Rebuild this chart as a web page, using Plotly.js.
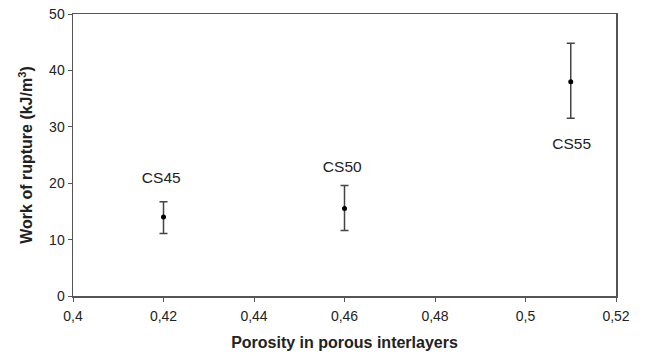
<!DOCTYPE html>
<html><head><meta charset="utf-8">
<script src="https://cdn.plot.ly/plotly-3.0.1.min.js"></script>
<style>html,body{margin:0;padding:0;background:#fff}#c{width:645px;height:356px}</style>
</head><body><div id="c"></div>
<script>
const labels = ["CS45", "CS50", "CS55"];
const porosity = [0.42, 0.46, 0.51];
const work = [14.0, 15.5, 38.0];
const errPlus = [2.7, 4.1, 6.8];
const errMinus = [2.9, 3.9, 6.5];
const labelX = [0.4195, 0.4595, 0.5102];
const labelY = [20.7, 22.7, 26.7];
const xTicks = [0.4, 0.42, 0.44, 0.46, 0.48, 0.5, 0.52];
const xTickText = ["0,4", "0,42", "0,44", "0,46", "0,48", "0,5", "0,52"];
const yTicks = [0, 10, 20, 30, 40, 50];

const trace = {
  x: porosity, y: work, type: 'scatter', mode: 'markers',
  marker: {color: '#000', size: 5},
  error_y: {type: 'data', symmetric: false, array: errPlus, arrayminus: errMinus,
    color: '#444', thickness: 1.5, width: 4},
  hoverinfo: 'skip', showlegend: false
};
const textTrace = {
  x: labelX, y: labelY, type: 'scatter', mode: 'text', text: labels,
  textfont: {family: 'Liberation Sans, Arial, sans-serif', size: 15.5, color: '#222'},
  showlegend: false, hoverinfo: 'skip'
};
const layout = {
  width: 645, height: 356,
  margin: {l: 73, r: 29, t: 14, b: 60},
  paper_bgcolor: '#fff', plot_bgcolor: '#fff',
  font: {family: 'Liberation Sans, Arial, sans-serif', size: 14, color: '#222'},
  xaxis: {
    range: [0.4, 0.52], tickvals: xTicks, ticktext: xTickText,
    showgrid: false, zeroline: false, showline: true, mirror: true,
    linecolor: '#555', linewidth: 1.5, ticks: 'outside', ticklen: 4, tickcolor: '#555',
    tickfont: {size: 14}, ticklabelstandoff: 3,
    title: {text: 'Porosity in porous interlayers', font: {size: 16, weight: 'bold'}, standoff: 13}
  },
  yaxis: {
    range: [0, 50], tickvals: yTicks,
    showgrid: false, zeroline: false, showline: true, mirror: true,
    linecolor: '#555', linewidth: 1.5, ticks: 'outside', ticklen: 4, tickcolor: '#555',
    tickfont: {size: 14},
    title: {text: 'Work of rupture (kJ/m<sup>3</sup>)', font: {size: 16, weight: 'bold'}, standoff: 12}
  }
};
Plotly.newPlot('c', [trace, textTrace], layout, {displayModeBar: false, staticPlot: true});
</script></body></html>
